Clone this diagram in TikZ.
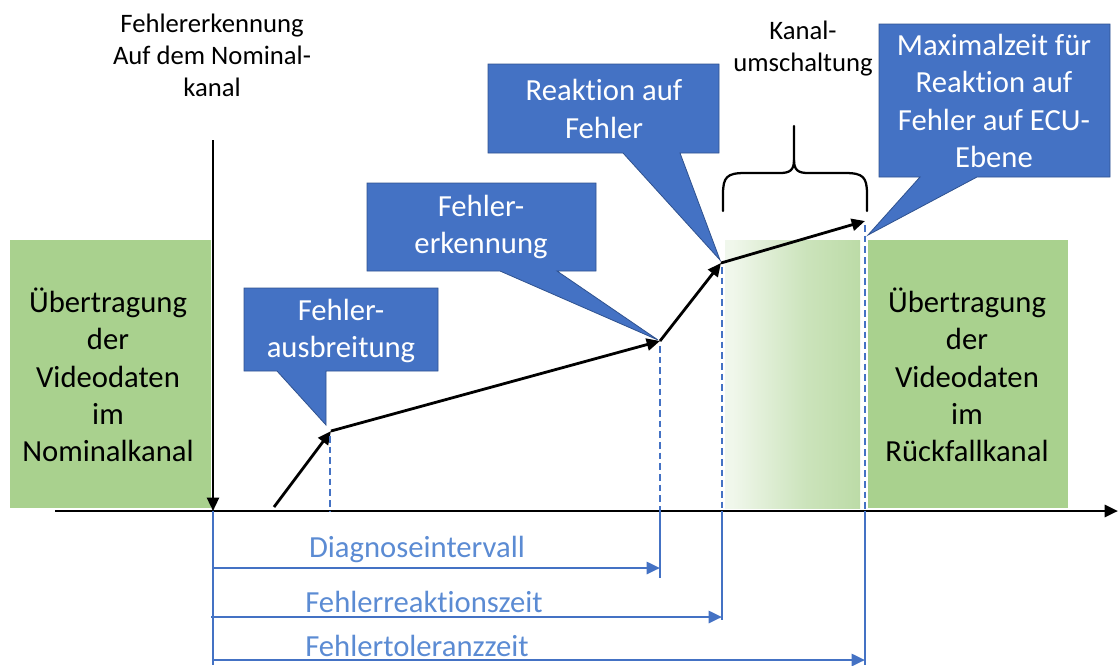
\documentclass[tikz,border=0pt]{standalone}
\usepackage{fontspec}
\setmainfont[Ligatures=NoCommon]{Carlito}
\usetikzlibrary{arrows.meta}
\definecolor{chgreen}{HTML}{A9D18E}
\definecolor{cblue}{HTML}{4472C4}
\definecolor{cbluedark}{HTML}{2F528F}
\definecolor{lblue}{HTML}{5B8BD3}
\pgfdeclarehorizontalshading{switchfade}{100bp}{%
  color(0bp)=(white!95!cblue); color(28bp)=(white!82!chgreen);
  color(55bp)=(white!40!chgreen); color(75bp)=(white!22!chgreen);
  color(100bp)=(white!12!chgreen)}
\tikzset{
  big/.style={font=\fontsize{23}{28}\selectfont, align=center, inner sep=0pt},
  small/.style={font=\fontsize{20}{24}\selectfont, align=center, inner sep=0pt},
  calltext/.style={big, text=white},
  callout/.style={fill=cblue, draw=cbluedark, line width=0.6pt},
  channel/.style={fill=chgreen, draw=none},
  flow/.style={line width=2.1pt, -{Triangle[length=10pt,width=9pt]}},
  timemark/.style={cblue, line width=1.8pt, dash pattern=on 5pt off 3pt},
  tickline/.style={cblue, line width=1.9pt},
  span/.style={cblue, line width=2pt, -{Triangle[length=10pt,width=9pt]}},
  spanlabel/.style={big, text=lblue},
  brace/.style={line width=1.7pt, line cap=round, line join=round}
}
\begin{document}
\begin{tikzpicture}[x=0.75pt, y=-0.75pt]
\useasboundingbox (0,0) rectangle (1118,665);

% channels
\fill[channel] (10,240) rectangle (211,508);
\fill[channel] (868,240) rectangle (1068,508);
\fill[shading=switchfade] (725,240) rectangle (860,508);
\node[big] (nominal) at (108,375) {Übertragung\\der\\Videodaten\\im\\Nominalkanal};
\node[big] (fallback) at (967,375) {Übertragung\\der\\Videodaten\\im\\Rückfallkanal};

% time axis and error detection marker
\coordinate (axisL) at (55,511);
\coordinate (axisR) at (1118,511);
\draw[line width=2.1pt, -{Triangle[length=10pt,width=9pt]}] (axisL) -- (axisR);
\coordinate (detTop) at (213,140);
\coordinate (t0) at (213,511);
\draw[line width=1.7pt, -{Triangle[length=10pt,width=9pt]}] (detTop) -- (t0);
\node[small] (detlabel) at (212,55) {Fehlererkennung\\Auf dem Nominal-\\kanal};

% error propagation path
\coordinate (p0) at (274,507);
\coordinate (p1) at (331,431);
\coordinate (p2) at (660,341);
\coordinate (p3) at (721,263);
\coordinate (p4) at (865,221);
\draw[flow] (p0) -- (p1);
\draw[flow] (p1) -- (p2);
\draw[flow] (p2) -- (p3);
\draw[flow] (p3) -- (p4);

% vertical time marks
\coordinate (m1) at (330,511);
\coordinate (m2) at (660,511);
\coordinate (m3) at (722,511);
\coordinate (m4) at (865,511);
\draw[timemark] (330,436) -- (m1);
\draw[timemark] (660,346) -- (m2);
\draw[timemark] (722,267) -- (m3);
\draw[timemark] (865,225) -- (m4);
\coordinate (e0) at (213,665);
\coordinate (e2) at (660,578);
\coordinate (e3) at (722,620);
\coordinate (e4) at (865,665);
\draw[tickline] (t0) -- (e0);
\draw[tickline] (m2) -- (e2);
\draw[tickline] (m3) -- (e3);
\draw[tickline] (m4) -- (e4);

% time spans
\coordinate (s1) at (213,568);
\coordinate (s1e) at (660,568);
\coordinate (s2) at (211,617);
\coordinate (s2e) at (722,617);
\coordinate (s3) at (213,660);
\coordinate (s3e) at (865,660);
\draw[span] (s1) -- (s1e);
\draw[span] (s2) -- (s2e);
\draw[span] (s3) -- (s3e);
\node[spanlabel] (diag) at (417,549) {Diagnoseintervall};
\node[spanlabel] (reakt) at (424,602) {Fehlerreaktionszeit};
\node[spanlabel] (toler) at (417,646) {Fehlertoleranzzeit};

% channel switch brace
\draw[brace] (723,211) -- (723,194) .. controls (723,177) and (727,173) .. (745,173)
  -- (780,173) .. controls (790,173) and (794,170) .. (794,160) -- (794,126);
\draw[brace] (867,211) -- (867,194) .. controls (867,177) and (863,173) .. (845,173)
  -- (808,173) .. controls (798,173) and (794,170) .. (794,160);
\node[small] (switch) at (803,49) {Kanal-\\umschaltung};

% callouts
\draw[callout] (244,288) -- (438,288) -- (438,371) -- (326,371) -- (326,425)
  -- (277,371) -- (244,371) -- cycle;
\node[calltext] (c1) at (341,331) {Fehler-\\ausbreitung};
\draw[callout] (367,183) -- (596,183) -- (596,271) -- (557,271) -- (658,340)
  -- (500,271) -- (367,271) -- cycle;
\node[calltext] (c2) at (481,227) {Fehler-\\erkennung};
\draw[callout] (488,64) -- (719,64) -- (719,153) -- (680,153) -- (720,260)
  -- (623,153) -- (488,153) -- cycle;
\node[calltext] (c3) at (604,109) {Reaktion auf\\Fehler};
\draw[callout] (879,24) -- (1110,24) -- (1110,177) -- (977,177) -- (868,235)
  -- (920,177) -- (879,177) -- cycle;
\node[calltext] (c4) at (994,101) {Maximalzeit für\\Reaktion auf\\Fehler auf ECU-\\Ebene};
\end{tikzpicture}
\end{document}
